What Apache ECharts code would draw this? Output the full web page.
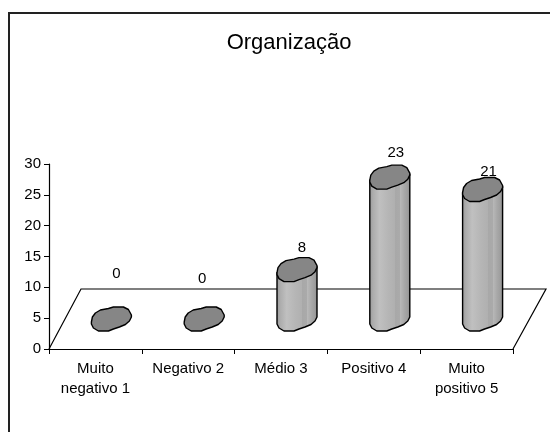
<!DOCTYPE html>
<html>
<head>
<meta charset="utf-8">
<style>
html,body{margin:0;padding:0;background:#fff}
#chart{width:550px;height:432px}
</style>
</head>
<body>
<div id="chart"></div>
<script src="https://cdn.jsdelivr.net/npm/echarts@6/dist/echarts.min.js"></script>
<script>
const categories = ['Muito\nnegativo 1', 'Negativo 2', 'Médio 3', 'Positivo 4', 'Muito\npositivo 5']
const values = [0, 0, 8, 23, 21]
const yTicks = { min: 0, max: 30, interval: 5 }

// label nudges from the top of each cylinder
const labelDx = [5, -2, 5, 6, 6]
const labelDy = [-45, -40, -22, -24, -18]

// cylinder cap outline, relative to its centre
const capTop = [[-20, 3], [-19, -2], [-16, -6], [-11, -9], [-3, -10.5], [2, -12], [12, -12], [17, -9.5], [20, -4]]
const capBottom = [[20, -2], [18, 2], [14, 5.5], [8, 8], [2, 10], [-3, 12], [-13, 12], [-18, 9], [-20, 5]]
const depthX = 16
const depthY = -30

const stripes = new echarts.graphic.LinearGradient(0, 0, 1, 0, [
  { offset: 0, color: '#9a9a9a' },
  { offset: 0.1, color: '#adadad' },
  { offset: 0.25, color: '#c0c0c0' },
  { offset: 0.45, color: '#b6b6b6' },
  { offset: 0.62, color: '#b0b0b0' },
  { offset: 0.62, color: '#a8a8a8' },
  { offset: 0.74, color: '#aaaaaa' },
  { offset: 0.74, color: '#bababa' },
  { offset: 0.85, color: '#a8a8a8' },
  { offset: 0.94, color: '#9c9c9c' },
  { offset: 1, color: '#808080' }
])

function moved(list, x, y) {
  return list.map(p => [p[0] + x, p[1] + y])
}

function renderFloor(params, api) {
  const c = params.coordSys
  const bottom = c.y + c.height
  const backY = bottom - 60
  return {
    type: 'polyline',
    shape: { points: [[c.x, bottom], [c.x + 32, backY], [c.x + c.width + 33, backY], [c.x + c.width, bottom]] },
    style: { fill: null, stroke: '#000', lineWidth: 1.2 }
  }
}

function renderCylinder(params, api) {
  const i = api.value(0)
  const v = api.value(1)
  const top = api.coord([i, v])
  const base = api.coord([i, 0])
  const x = top[0] + depthX
  const yTop = top[1] + depthY
  const yBase = base[1] + depthY
  const children = []
  if (v > 0) {
    // top right, down to the base, round it, back up to top left
    const outline = [[x + 20, yTop - 3]].concat(moved(capBottom, x, yBase), [[x - 20, yTop + 3]])
    children.push({
      type: 'polygon',
      shape: { points: outline },
      style: { fill: stripes, stroke: '#000', lineWidth: 1.4, lineJoin: 'round' }
    })
  }
  children.push({
    type: 'polygon',
    shape: { points: moved(capTop, x, yTop).concat(moved(capBottom, x, yTop)) },
    style: { fill: '#868686', stroke: '#000', lineWidth: 1.4, lineJoin: 'round' }
  })
  children.push({
    type: 'text',
    style: {
      x: x + labelDx[i],
      y: yTop + labelDy[i],
      text: String(v),
      fill: '#000',
      font: '15px "Liberation Sans", Arial, sans-serif',
      textAlign: 'center',
      textVerticalAlign: 'middle'
    }
  })
  return { type: 'group', children: children }
}

const chart = echarts.init(document.getElementById('chart'))
chart.setOption({
  animation: false,
  backgroundColor: '#fff',
  textStyle: { fontFamily: '"Liberation Sans", Arial, sans-serif' },
  title: {
    text: 'Organização',
    left: 284,
    top: 27,
    textAlign: 'center',
    textStyle: { fontSize: 22, fontWeight: 'normal', color: '#000', fontFamily: '"Liberation Sans", Arial, sans-serif' }
  },
  graphic: [
    { type: 'line', shape: { x1: 10, y1: 13, x2: 550, y2: 13 }, style: { stroke: '#222', lineWidth: 2 } },
    { type: 'line', shape: { x1: 9, y1: 12, x2: 9, y2: 432 }, style: { stroke: '#222', lineWidth: 2 } }
  ],
  grid: { left: 49, right: 37, top: 164, bottom: 83 },
  xAxis: {
    type: 'category',
    data: categories,
    axisLine: { lineStyle: { color: '#000', width: 1.2 } },
    axisTick: { show: true, interval: 0, length: 5, lineStyle: { color: '#000' } },
    axisLabel: { color: '#000', fontSize: 15, lineHeight: 20, margin: 10, interval: 0 }
  },
  yAxis: {
    type: 'value',
    min: yTicks.min,
    max: yTicks.max,
    interval: yTicks.interval,
    splitLine: { show: false },
    axisLine: { show: true, lineStyle: { color: '#000', width: 1.2 } },
    axisTick: { show: true, length: 5, lineStyle: { color: '#000' } },
    axisLabel: { color: '#000', fontSize: 15, margin: 8 }
  },
  series: [
    { type: 'custom', coordinateSystem: 'cartesian2d', renderItem: renderFloor, data: [[0, 0]], silent: true, z: 1 },
    { type: 'custom', coordinateSystem: 'cartesian2d', renderItem: renderCylinder, encode: { x: 0, y: 1 }, data: values.map((v, i) => [i, v]), z: 2 }
  ]
})
</script>
</body>
</html>
